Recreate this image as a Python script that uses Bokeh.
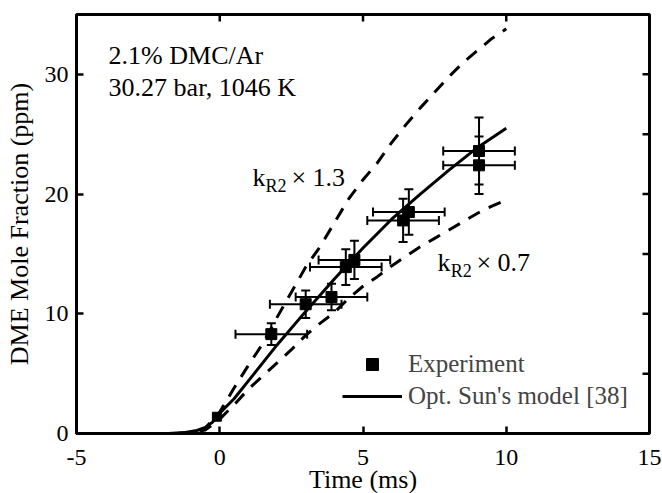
import math
from bokeh.plotting import figure
from bokeh.models import (ColumnDataSource, Whisker, TeeHead, FixedTicker,
                          Legend, LegendItem, Label, Range1d)
from bokeh.embed import file_html
from bokeh.resources import INLINE

# Measured DME mole fraction (ppm) vs time (ms)
time_exp = [1.8, 3.0, 3.9, 4.4, 4.7, 6.4, 6.6, 9.05, 9.05]
dme_exp = [8.3, 10.8, 11.4, 13.9, 14.5, 17.8, 18.5, 23.6, 22.4]
time_err = [1.25, 1.25, 1.25, 1.25, 1.25, 1.25, 1.25, 1.25, 1.25]
dme_err = [0.9, 1.15, 1.1, 1.5, 1.6, 1.8, 1.9, 2.8, 2.4]

# Early-time measurement near ignition onset (no error bars shown)
time_early = [-0.1]
dme_early = [1.4]

# Optimized Sun's model
time_model = [-2.0, -1.8, -1.2, -0.8, -0.5, -0.25, 0.0, 0.5, 1.0, 1.5, 2.0, 3.0, 4.0, 5.0,
              6.0, 7.0, 8.0, 9.0, 10.0]
dme_model = [0.0, 0.0, 0.08, 0.25, 0.5, 0.95, 1.7, 2.9, 4.4, 5.9, 7.4, 10.2, 12.9, 15.5,
             17.9, 20.0, 22.0, 23.9, 25.5]

# Sensitivity runs: k_R2 scaled by 1.3 and 0.7
time_sens = [-1.5, -1.0, -0.5, 0.0, 0.5, 1.0, 1.5, 2.0, 2.5, 3.0, 3.5, 4.0, 4.5, 5.0, 5.5,
             6.0, 6.5, 7.0, 7.5, 8.0, 8.5, 9.0, 9.5, 10.0]
dme_k13 = [0.0, 0.1, 0.45, 1.8, 3.8, 5.7, 7.5, 9.7, 11.8, 13.9, 15.6, 17.6, 19.6, 21.2, 22.6,
           24.3, 25.8, 27.2, 28.5, 29.8, 31.0, 32.0, 33.0, 33.8]
dme_k07 = [0.0, 0.05, 0.3, 1.2, 2.4, 3.7, 4.8, 5.9, 7.0, 8.2, 9.2, 10.1, 11.3, 12.3, 13.1,
           14.0, 14.8, 15.6, 16.3, 17.0, 17.7, 18.4, 19.0, 19.5]

x_ticks = [-5, 0, 5, 10, 15]
y_ticks = [0, 10, 20, 30]
top_ticks = [0, 5, 10]
right_ticks = [5, 10, 15, 20, 25, 30]

X_MIN, X_MAX = -5, 15
Y_MIN, Y_MAX = 0, 35

FONT = "Liberation Serif"
TICK_LEN = 7

p = figure(frame_width=573, frame_height=419, output_backend="svg", toolbar_location=None,
           x_range=Range1d(X_MIN, X_MAX), y_range=Range1d(Y_MIN, Y_MAX),
           min_border_left=76, min_border_right=13, min_border_top=14, min_border_bottom=60,
           background_fill_color="white", border_fill_color="white")
p.grid.visible = False
p.outline_line_color = "black"
p.outline_line_width = 3
p.outline_line_alpha = 1.0

def style_axis(ax, ticks):
    ax.ticker = FixedTicker(ticks=ticks)
    ax.axis_line_color = None
    ax.major_tick_in = TICK_LEN
    ax.major_tick_out = 0
    ax.major_tick_line_width = 2.5
    ax.major_tick_line_color = "black"
    ax.minor_tick_line_color = None
    ax.major_label_text_font = FONT
    ax.major_label_text_font_size = "24px"
    ax.major_label_text_color = "black"
    ax.axis_label_text_font = FONT
    ax.axis_label_text_font_size = "26px"
    ax.axis_label_text_font_style = "normal"
    ax.axis_label_text_color = "black"

style_axis(p.xaxis[0], x_ticks)
p.xaxis[0].major_label_overrides = {t: str(t) for t in x_ticks}
p.xaxis[0].major_label_standoff = 16
p.xaxis[0].axis_label = "Time (ms)"
p.xaxis[0].axis_label_standoff = -3

style_axis(p.yaxis[0], y_ticks)
p.yaxis[0].major_label_standoff = 8
p.yaxis[0].axis_label = "DME Mole Fraction (ppm)"
p.yaxis[0].axis_label_standoff = 8

# Inward ticks on the top and right edges of the frame
p.ray(x=top_ticks, y=[Y_MAX] * len(top_ticks), length=TICK_LEN, length_units="screen",
      angle=-math.pi / 2, line_color="black", line_width=2.5)
p.ray(x=[X_MAX] * len(right_ticks), y=right_ticks, length=TICK_LEN, length_units="screen",
      angle=math.pi, line_color="black", line_width=2.5)

# Model curves
r_k13 = p.line(time_sens, dme_k13, line_color="black", line_width=3, line_dash="13 10")
r_k07 = p.line(time_sens, dme_k07, line_color="black", line_width=3, line_dash="13 10")
r_model = p.line(time_model, dme_model, line_color="black", line_width=3)

# Experimental points with error bars
src = ColumnDataSource(dict(
    t=time_exp, y=dme_exp,
    t_lo=[t - e for t, e in zip(time_exp, time_err)],
    t_hi=[t + e for t, e in zip(time_exp, time_err)],
    y_lo=[y - e for y, e in zip(dme_exp, dme_err)],
    y_hi=[y + e for y, e in zip(dme_exp, dme_err)],
))
p.add_layout(Whisker(source=src, base="t", lower="y_lo", upper="y_hi", dimension="height",
                     line_width=2, line_color="black",
                     lower_head=TeeHead(size=9, line_width=2, line_color="black"),
                     upper_head=TeeHead(size=9, line_width=2, line_color="black")))
p.add_layout(Whisker(source=src, base="y", lower="t_lo", upper="t_hi", dimension="width",
                     line_width=2, line_color="black",
                     lower_head=TeeHead(size=9, line_width=2, line_color="black"),
                     upper_head=TeeHead(size=9, line_width=2, line_color="black")))
r_exp = p.scatter("t", "y", source=src, marker="square", size=11,
                  fill_color="black", line_color="black")
p.scatter(time_early, dme_early, marker="square", size=9,
          fill_color="black", line_color="black")

legend = Legend(items=[LegendItem(label="Experiment", renderers=[r_exp]),
                       LegendItem(label="Opt. Sun's model [38]", renderers=[r_model])],
                location=(266, 22), glyph_width=60, glyph_height=30, spacing=2,
                padding=0, margin=0, label_standoff=6,
                label_text_font=FONT, label_text_font_size="25px",
                border_line_alpha=0, background_fill_alpha=0)
p.add_layout(legend)

def label(x, y, text, size="26px"):
    p.add_layout(Label(x=x, y=y, text=text, text_font=FONT, text_font_size=size,
                       text_color="black", text_baseline="alphabetic", text_align="left"))

label(-3.88, 31.6, "2.1% DMC/Ar")
label(-3.88, 28.9, "30.27 bar, 1046 K")

label(1.14, 21.4, "k")
label(1.60, 20.7, "R2", "18px")
label(2.5, 21.4, "\u00d7 1.3")

label(7.6, 14.26, "k")
label(8.06, 13.6, "R2", "18px")
label(8.96, 14.26, "\u00d7 0.7")

open("out.html", "w").write(file_html(p, INLINE))
